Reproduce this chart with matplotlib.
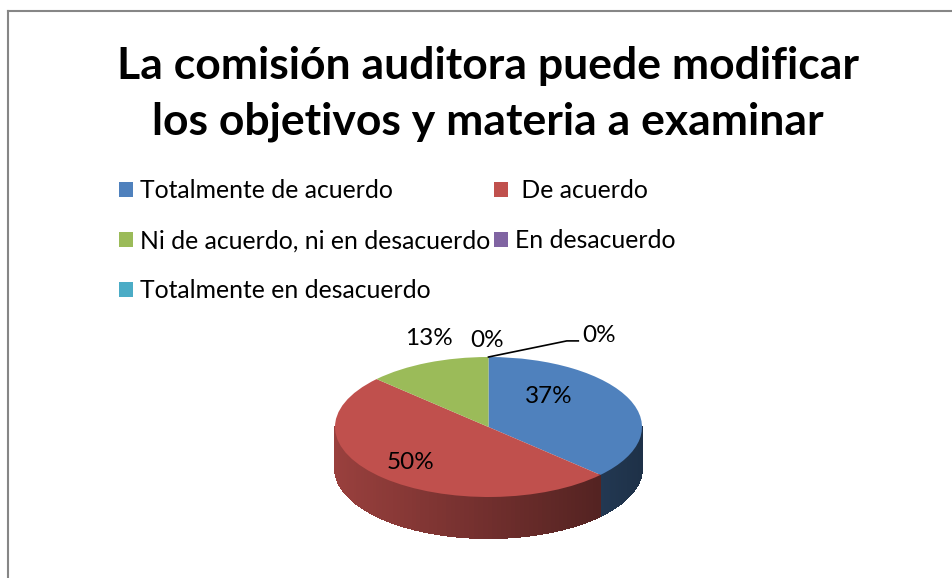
import matplotlib.pyplot as plt
import numpy as np
from matplotlib.collections import PolyCollection
from matplotlib.colors import to_rgb
from matplotlib.lines import Line2D
from matplotlib.patches import Patch

categories = [
    "Totalmente de acuerdo",
    " De acuerdo",
    "Ni de acuerdo, ni en desacuerdo",
    "En desacuerdo",
    "Totalmente en desacuerdo",
]
percentages = [37, 50, 13, 0, 0]
colors = ["#4F81BD", "#C0504D", "#9BBB59", "#8064A2", "#4BACC6"]
title = "La comisión auditora puede modificar\nlos objetivos y materia a examinar"

# label anchor positions in ellipse units (x: semi-major, y: semi-minor)
label_pos = [(0.39, 0.43), (-0.51, -0.51), (-0.39, 1.27), (-0.01, 1.24), (0.72, 1.30)]

W, H = 953, 578
fig = plt.figure(figsize=(W / 100, H / 100), dpi=100)
font = ["Lato", "DejaVu Sans"]

# chart border (top and left only visible)
fig.add_artist(Line2D([8 / W, 8 / W], [0, 1 - 11 / H], color="#868686", lw=1.5))
fig.add_artist(Line2D([8 / W, 1], [1 - 11 / H, 1 - 11 / H], color="#868686", lw=1.5))

fig.text(488 / W, 1 - 94 / H, title, ha="center", va="center", fontsize=32,
         fontweight="bold", family=font, linespacing=1.5)

# legend, filled row by row
order = [0, 2, 4, 1, 3]
handles = [Patch(facecolor=colors[i], edgecolor="none") for i in order]
fig.legend(handles, [categories[i] for i in order], ncol=2, loc="upper left",
           bbox_to_anchor=(119 / W, 1 - 179 / H), frameon=False,
           prop={"family": font, "size": 17.8}, handlelength=0.55, handleheight=0.55,
           handletextpad=0.3, labelspacing=1.1, columnspacing=0.15, borderaxespad=0,
           borderpad=0)

# pie area: center (488.5, 427) px, semi-axes 153.5 x 70 px, depth 41 px
cx, cy, rx, ry, depth = 488.5, 427, 153.5, 70, 41
left, right, top, bottom = 300, 680, 310, 560
ax = fig.add_axes([left / W, 1 - bottom / H, (right - left) / W, (bottom - top) / H])

fracs = np.array(percentages) / sum(percentages)
ends = 90 - 360 * np.cumsum(fracs)
starts = np.concatenate([[90], ends[:-1]])
d = depth / ry

# side of the cylinder, shaded left to right
polys, fcols = [], []
for s, e, c, f in zip(starts, ends, colors, fracs):
    if f == 0:
        continue
    a0, a1 = e % 360, s % 360
    if a1 <= a0:
        a1 += 360
    base = np.array(to_rgb(c))
    for lo, hi in [(180, 360), (540, 720)]:
        lo_, hi_ = max(a0, lo), min(a1, hi)
        if hi_ <= lo_:
            continue
        th = np.radians(np.linspace(lo_, hi_, 80))
        for t0, t1 in zip(th[:-1], th[1:]):
            x0, x1 = np.cos(t0), np.cos(t1)
            y0, y1 = np.sin(t0), np.sin(t1)
            polys.append([(x0, y0), (x1, y1), (x1, y1 - d), (x0, y0 - d)])
            k = 0.8 - 0.21 * (x0 + x1 + 2) / 2
            fcols.append(base * k)
ax.add_collection(PolyCollection(polys, facecolors=fcols, edgecolors=fcols,
                                 linewidths=0.8, antialiaseds=False, zorder=0.5))

ax.pie(percentages, colors=colors, startangle=90, counterclock=False, radius=1,
       wedgeprops={"linewidth": 0})
ax.set_aspect("auto")
ax.set_xlim((left - cx) / rx, (right - cx) / rx)
ax.set_ylim((cy - bottom) / ry, (cy - top) / ry)
ax.axis("off")

for (lx, ly), p in zip(label_pos, percentages):
    ax.text(lx, ly, f"{p}%", ha="center", va="center", fontsize=17.5, family=font)

# leader line for the last zero slice
sa = np.radians(starts[4])
ax.plot([np.cos(sa), 0.51, 0.585], [np.sin(sa), 1.23, 1.23], color="black", lw=1.2)

fig.savefig("out.png", dpi=100)
